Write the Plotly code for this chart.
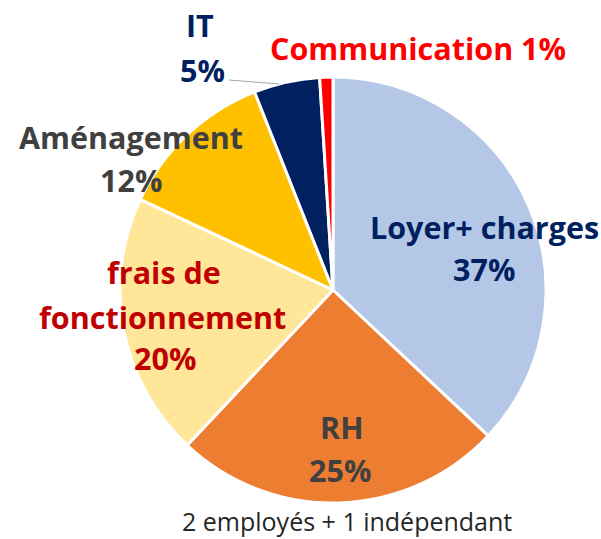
import plotly.graph_objects as go

# ---- data ----
categories = ["Loyer+ charges", "RH", "frais de fonctionnement", "Aménagement", "IT", "Communication"]
shares = [37, 25, 20, 12, 5, 1]
subtitle = "2 employés + 1 indépendant"

# ---- styles ----
slice_colors = ["#B4C7E7", "#ED7D31", "#FFE699", "#FFC000", "#002060", "#FF0000"]
text_colors = ["#002060", "#404040", "#C00000", "#404040", "#002060", "#FF0000"]

W, H = 601, 539
def px(x, y):
    return x / W, 1 - y / H

cx, cy, r = 333, 290, 213
fig = go.Figure(go.Pie(
    labels=categories, values=shares, sort=False, direction="clockwise", rotation=0,
    marker=dict(colors=slice_colors, line=dict(color="white", width=3)),
    textinfo="none", hoverinfo="label+percent", showlegend=False,
    domain=dict(x=[(cx - r) / W, (cx + r) / W], y=[1 - (cy + r) / H, 1 - (cy - r) / H]),
))

# label line layout: for each category, a list of (text-line, pixel x, pixel y)
def lines_for(i):
    name, v = categories[i], shares[i]
    pct = f"{v}%"
    layout = {
        0: [(name, 485, 227), (pct, 484, 269)],
        1: [(name, 341, 427), (pct, 340, 470)],
        2: [("frais de", 164, 272), ("fonctionnement", 162, 317), (pct, 165, 358)],
        3: [(name, 131, 137), (pct, 131, 180)],
        4: [(name, 200, 25), (pct, 202, 70)],
        5: [(f"{name} {pct}", 418, 48)],
    }
    return layout[i]

annotations = []
for i in range(len(categories)):
    for t, x, y in lines_for(i):
        ax, ay = px(x, y)
        annotations.append(dict(
            text=f"<b>{t}</b>", x=ax, y=ay, xref="paper", yref="paper",
            xanchor="center", yanchor="middle", showarrow=False,
            font=dict(family="Open Sans", size=30.5, color=text_colors[i]),
        ))

sx, _ = px(347, 524)
annotations.append(dict(text=subtitle, x=sx, y=0, xref="paper", yref="paper",
                        xanchor="center", yanchor="bottom", showarrow=False, borderpad=0,
                        font=dict(family="Open Sans", size=25, color="#262626")))

x0, y0 = px(229, 80)
x1, y1 = px(279, 84)
fig.add_shape(type="line", xref="paper", yref="paper", x0=x0, y0=y0, x1=x1, y1=y1,
              line=dict(color="#A6A6A6", width=1))

fig.update_layout(width=W, height=H, margin=dict(l=0, r=0, t=0, b=0),
                  paper_bgcolor="white", plot_bgcolor="white", annotations=annotations)
fig.write_html("out.html")
